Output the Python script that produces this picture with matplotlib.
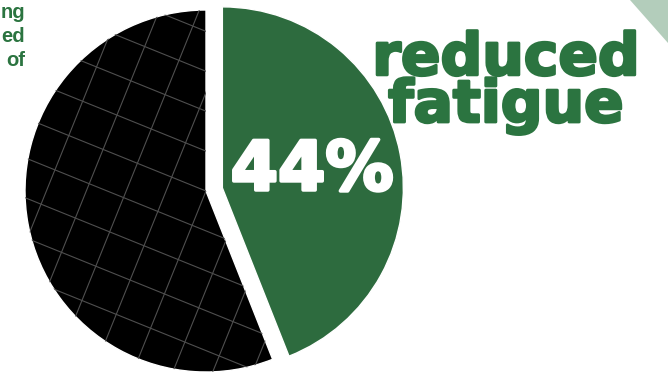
import numpy as np
import matplotlib
matplotlib.use("Agg")
import matplotlib.pyplot as plt
from matplotlib.patches import Polygon
import matplotlib.patheffects as pe

# ---- data ----
labels = ["reduced fatigue", "other"]
values = [44, 56]
pct_label = "44%"
headline = ["reduced", "fatigue"]
side_fragments = ["ng", "ed", "of"]

GREEN = "#2d6b3e"
TEXT_GREEN = "#2b7440"

W, H = 668, 372
fig = plt.figure(figsize=(W / 100, H / 100), dpi=100)
ax = fig.add_axes([0, 0, 1, 1])
ax.set_aspect("equal")
ax.axis("off")

center = (206, 181)
radius = 181
explode_frac = 0.092
wedges, _ = ax.pie(values, colors=[GREEN, "black"], startangle=90,
                   counterclock=False,
                   explode=[explode_frac * radius, 0.0],
                   center=center, radius=radius,
                   wedgeprops=dict(edgecolor="white", linewidth=1.0))
ax.set_xlim(0, W)
ax.set_ylim(0, H)

# grid texture on the black wedge
black = wedges[1]
theta = np.deg2rad(-22)
spacing = 37
d = np.array([np.cos(theta), np.sin(theta)])
n = np.array([-d[1], d[0]])
for k in range(-14, 15):
    for dirv, nv in ((d, n), (n, d)):
        p0 = np.array(center) + nv * k * spacing + dirv * 600
        p1 = np.array(center) + nv * k * spacing - dirv * 600
        ln, = ax.plot([p0[0], p1[0]], [p0[1], p1[1]], color="#4f4f4f",
                      lw=0.8)
        ln.set_clip_path(black)

# percentage label
ax.text(312, 182, pct_label, color="white", fontsize=49, fontweight="bold",
        family="DejaVu Sans", ha="center", va="baseline",
        path_effects=[pe.withStroke(linewidth=2.5, foreground="white")])

# headline (two lines, tight leading)
ax.text(506, 250, "\n".join(headline), color=TEXT_GREEN, fontsize=42,
        fontweight="bold", family="DejaVu Sans", ha="center", va="baseline",
        multialignment="center", linespacing=0.78,
        path_effects=[pe.withStroke(linewidth=2.0, foreground=TEXT_GREEN)])

# cut-off side text
for i, frag in enumerate(side_fragments):
    ax.text(25, H - 18 - i * 24, frag, color=TEXT_GREEN, fontsize=14.5,
            fontweight="bold", family="Liberation Sans", ha="right", va="baseline")

# decorative corner triangle
ax.add_patch(Polygon([[630, H], [W, H], [W, H - 43]], closed=True,
                     facecolor="#b3cdbb", edgecolor="none"))

fig.savefig("out.png", dpi=100)
